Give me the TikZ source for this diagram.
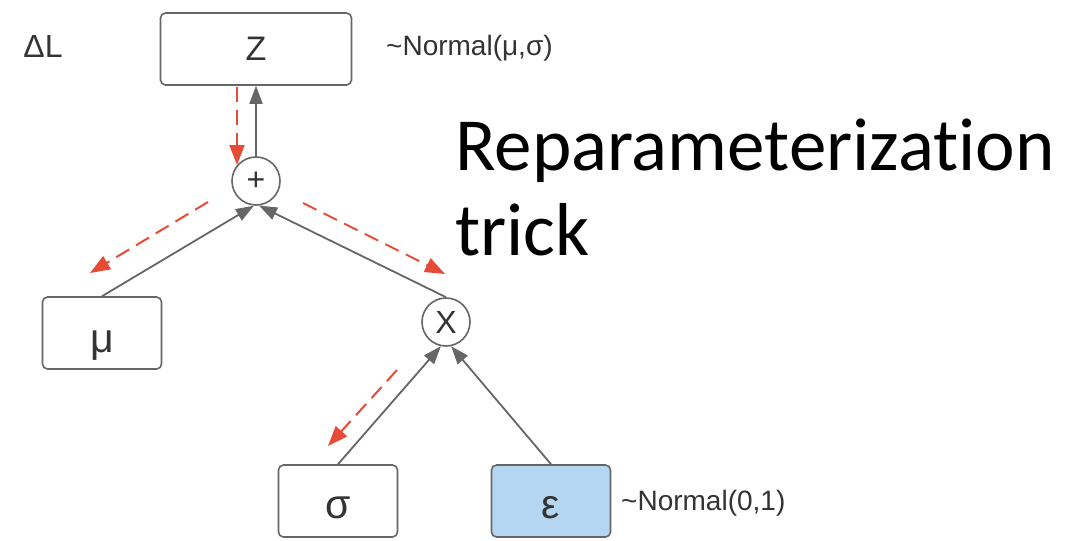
\documentclass[tikz,border=0pt]{standalone}
\usepackage{fontspec}
\setmainfont{Liberation Sans}
\newfontfamily\titlefont[Ligatures=NoCommon]{Carlito}
\usetikzlibrary{arrows.meta}
\definecolor{edgegray}{HTML}{666666}
\definecolor{inkgray}{HTML}{333333}
\definecolor{backred}{HTML}{E64B35}
\definecolor{noisefill}{HTML}{B4D6F0}
\tikzset{
  varbox/.style={draw=edgegray, line width=1.6pt, rounded corners=5pt, fill=white,
    minimum width=119pt, minimum height=72pt, inner sep=0pt,
    font=\fontsize{34}{40}\selectfont, text=inkgray},
  % baseline sits half of #1 below the box centre
  greek/.style={font=\fontsize{41}{48}\selectfont, text height=#1, text depth=0pt},
  opcircle/.style={draw=edgegray, line width=1.6pt, circle, fill=white,
    minimum size=48pt, inner sep=0pt, font=\fontsize{32}{36}\selectfont, text=inkgray},
  note/.style={inner sep=0pt, font=\fontsize{28}{33}\selectfont, text=inkgray},
  fwd/.style={draw=edgegray, line width=1.8pt, -{Triangle[length=18pt,width=13pt]}},
  back/.style={draw=backred, line width=2pt, dash pattern=on 15pt off 8pt,
    -{Triangle[length=20pt,width=15pt]}},
}
\begin{document}
\begin{tikzpicture}[x=1pt,y=-1pt]
\useasboundingbox (0,0) rectangle (1074,541);

% computation graph nodes
\node[varbox, minimum width=191pt] (z) at (256,49) {Z};
\node[opcircle] (plus) at (256,181) {+};
\node[varbox, greek=38pt] (mu) at (102,333) {μ};
\node[opcircle] (times) at (446,322) {X};
\node[varbox, greek=34pt] (sigma) at (338,501) {σ};
\node[varbox, greek=34pt, fill=noisefill] (eps) at (551,501) {ε};

% side labels
\node[note, font=\fontsize{32}{38}\selectfont] (dl) at (43,46) {ΔL};
\node[note, anchor=west] (zdist) at (386,48) {\textasciitilde Normal(μ,σ)};
\node[note, anchor=west] (edist) at (621,503) {\textasciitilde Normal(0,1)};

% title
\node[inner sep=0pt, anchor=base west, font=\titlefont\fontsize{75}{90}\selectfont] (t1) at (455,170) {Reparameterization};
\node[inner sep=0pt, anchor=base west, font=\titlefont\fontsize{75}{90}\selectfont] (t2) at (455,255) {trick};

% forward pass
\draw[fwd] (mu.north) -- (plus.265);
\draw[fwd] (times.north) -- (plus.277);
\draw[fwd] (sigma.north) -- (times.258);
\draw[fwd] (eps.north) -- (times.282);
\draw[fwd] (plus.north) -- (z.south);

% gradient flow (backward pass)
\coordinate (g1s) at (237,87);
\coordinate (g1e) at (237,165);
\coordinate (g2s) at (208,202);
\coordinate (g2e) at (90,273);
\coordinate (g3s) at (303,203);
\coordinate (g3e) at (445,274);
\coordinate (g4s) at (397,370);
\coordinate (g4e) at (328,446);
\draw[back] (g1s) -- (g1e);
\draw[back] (g2s) -- (g2e);
\draw[back] (g3s) -- (g3e);
\draw[back] (g4s) -- (g4e);
\end{tikzpicture}
\end{document}
